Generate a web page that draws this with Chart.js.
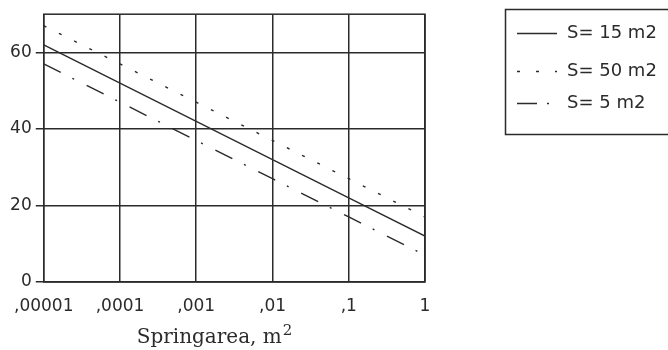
<!DOCTYPE html>
<html>
<head>
<meta charset="utf-8">
<script src="https://cdn.jsdelivr.net/npm/chart.js@4"></script>
<style>
html, body { margin: 0; padding: 0; background: #fff; }
#caja { width: 668px; height: 350px; }
</style>
</head>
<body>
<div id="caja"><canvas id="lienzo"></canvas></div>
<script>
// Springarea (m2) en eje log
const areas = [0.00001, 0.0001, 0.001, 0.01, 0.1, 1]
const s15 = [62, 52, 42, 32, 22, 12]
const s50 = [67, 57, 47, 37, 27, 17]
const s5 = [57, 47, 37, 27, 17, 7]
const nombres = ['S= 15 m2', 'S= 50 m2', 'S= 5 m2']
const yTicks = [0, 20, 40, 60]

const tinta = '#2b2b2b'
const guiones = [[], [3, 14], [19, 13, 2, 14]]

const puntos = (vals) => areas.map((a, i) => ({x: a, y: vals[i]}))

const series = [s15, s50, s5].map((vals, i) => ({
    label: nombres[i],
    data: puntos(vals),
    borderColor: tinta,
    borderWidth: 1.4,
    borderDash: guiones[i],
    pointRadius: 0,
    fill: false
}))

// leyenda con caja y titulo del eje x a mano
const extras = {
    id: 'extras',
    afterDraw(chart) {
        const ctx = chart.ctx
        const area = chart.chartArea
        ctx.save()
        ctx.strokeStyle = tinta
        ctx.lineWidth = 1.5
        ctx.setLineDash([])
        ctx.strokeRect(area.left, area.top, area.right - area.left, area.bottom - area.top)

        // leyenda
        ctx.strokeRect(505.5, 9.5, 220, 125)
        const filas = [33, 71, 103]
        const muestras = [[], [3, 16], [20, 10, 2, 30]]
        ctx.font = '18px "DejaVu Sans"'
        ctx.textBaseline = 'middle'
        ctx.fillStyle = tinta
        filas.forEach((y, i) => {
            ctx.beginPath()
            ctx.setLineDash(muestras[i])
            ctx.lineWidth = 1.4
            ctx.moveTo(517, y + 0.5)
            ctx.lineTo(557, y + 0.5)
            ctx.stroke()
            ctx.fillText(nombres[i], 567, y)
        })

        // titulo eje x
        ctx.setLineDash([])
        ctx.font = '20px "DejaVu Serif"'
        ctx.textBaseline = 'alphabetic'
        const txt = 'Springarea, m'
        const w = ctx.measureText(txt).width
        ctx.font = '15px "DejaVu Serif"'
        const w2 = ctx.measureText('2').width
        const x0 = 214 - (w + w2) / 2
        ctx.font = '20px "DejaVu Serif"'
        ctx.fillText(txt, x0, 343)
        ctx.font = '15px "DejaVu Serif"'
        ctx.fillText('2', x0 + w + 1, 335)
        ctx.restore()
    }
}

new Chart(document.getElementById('lienzo'), {
    type: 'line',
    data: { datasets: series },
    plugins: [extras],
    options: {
        responsive: true,
        maintainAspectRatio: false,
        animation: false,
        layout: { padding: { top: 11, right: 243, left: 0, bottom: 0 } },
        plugins: {
            legend: { display: false },
            tooltip: { enabled: false }
        },
        scales: {
            x: {
                type: 'logarithmic',
                min: 0.00001,
                max: 1,
                afterBuildTicks: (s) => { s.ticks = areas.map(v => ({value: v})) },
                afterFit: (s) => { s.height = 68 },
                grid: { color: tinta, lineWidth: 1.5, drawTicks: false },
                border: { display: false },
                ticks: {
                    color: tinta,
                    font: { family: 'DejaVu Sans', size: 17 },
                    padding: 14,
                    maxRotation: 0,
                    autoSkip: false,
                    callback: (v) => v >= 1 ? String(v) : ',' + String(v).split('.')[1]
                }
            },
            y: {
                min: 0,
                max: 70,
                afterBuildTicks: (s) => { s.ticks = yTicks.map(v => ({value: v})) },
                afterFit: (s) => { s.width = 43 },
                grid: { color: tinta, lineWidth: 1.5, tickLength: 8 },
                border: { display: false },
                ticks: {
                    color: tinta,
                    font: { family: 'DejaVu Sans', size: 17 },
                    padding: 4
                }
            }
        }
    }
})
</script>
</body>
</html>
